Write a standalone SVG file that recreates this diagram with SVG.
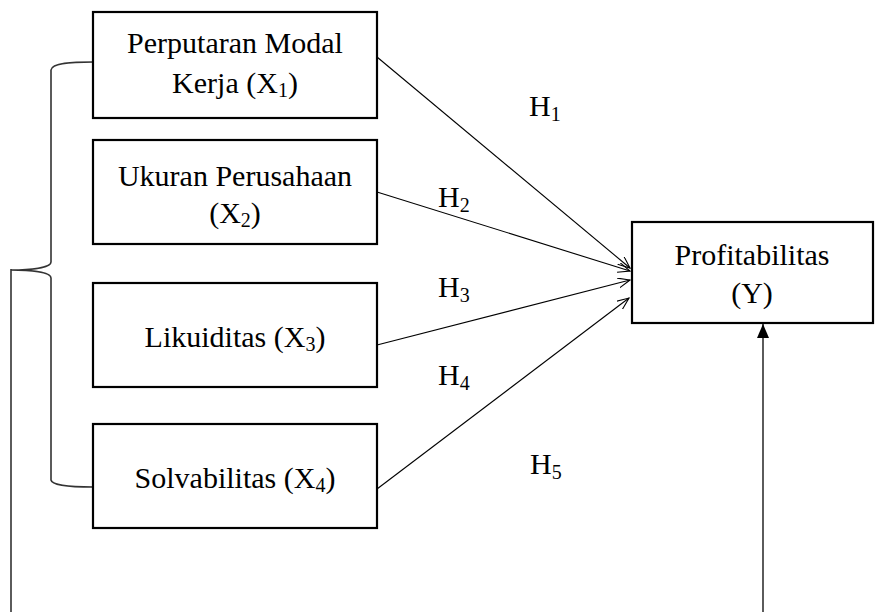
<svg xmlns="http://www.w3.org/2000/svg" width="875" height="612" viewBox="0 0 875 612">
<style>
.box{fill:#fff;stroke:#000;stroke-width:2.2}
.t{font-family:"Liberation Serif","Times New Roman",serif;font-size:30px;fill:#000;text-anchor:middle}
.h{font-family:"Liberation Serif","Times New Roman",serif;font-size:30px;fill:#000}
.sub{font-size:20px}
.ar{fill:none;stroke:#000;stroke-width:1.1}
.br{fill:none;stroke:#333;stroke-width:1.6}
</style>
<defs>
<marker id="open" markerUnits="userSpaceOnUse" markerWidth="14" markerHeight="12" refX="12" refY="5" orient="auto">
<path d="M0,0 L12,5 L0,10" fill="none" stroke="#000" stroke-width="1.1"/>
</marker>
<marker id="solid" markerUnits="userSpaceOnUse" markerWidth="14" markerHeight="14" refX="14" refY="6" orient="auto">
<path d="M0,0 L14,6 L0,12 Z" fill="#000"/>
</marker>
</defs>
<rect width="875" height="612" fill="#fff"/>
<g id="connectors">
<line class="ar" x1="377" y1="57" x2="630" y2="268" marker-end="url(#open)"/>
<line class="ar" x1="377" y1="192" x2="630" y2="271" marker-end="url(#open)"/>
<line class="ar" x1="377" y1="345" x2="630" y2="280" marker-end="url(#open)"/>
<line class="ar" x1="377" y1="489" x2="629" y2="298" marker-end="url(#open)"/>
<path class="br" d="M93,62 C72,62 52,63 51,70 L51,262 C51,268 30,270 11,270 C30,270 51,272 51,278 L51,480 C52,486 72,487 93,487"/>
<line class="br" x1="11" y1="269" x2="11" y2="612"/>
<line class="br" x1="763" y1="612" x2="763" y2="324" marker-end="url(#solid)"/>
<text class="h" x="529" y="116">H<tspan class="sub" dy="5">1</tspan></text>
<text class="h" x="438" y="207">H<tspan class="sub" dy="5">2</tspan></text>
<text class="h" x="438" y="297">H<tspan class="sub" dy="5">3</tspan></text>
<text class="h" x="438" y="385">H<tspan class="sub" dy="5">4</tspan></text>
<text class="h" x="530" y="474">H<tspan class="sub" dy="5">5</tspan></text>
</g>
<g id="x1">
<rect class="box" x="93" y="12" width="284" height="106"/>
<text class="t" x="235" y="53">Perputaran Modal</text>
<text class="t" x="235" y="93">Kerja (X<tspan class="sub" dy="4">1</tspan><tspan dy="-4">)</tspan></text>
</g>
<g id="x2">
<rect class="box" x="93" y="140" width="284" height="104"/>
<text class="t" x="235" y="186">Ukuran Perusahaan</text>
<text class="t" x="235" y="223">(X<tspan class="sub" dy="4">2</tspan><tspan dy="-4">)</tspan></text>
</g>
<g id="x3">
<rect class="box" x="93" y="283" width="284" height="104"/>
<text class="t" x="235" y="347">Likuiditas (X<tspan class="sub" dy="4">3</tspan><tspan dy="-4">)</tspan></text>
</g>
<g id="x4">
<rect class="box" x="93" y="424" width="284" height="104"/>
<text class="t" x="235" y="488">Solvabilitas (X<tspan class="sub" dy="4">4</tspan><tspan dy="-4">)</tspan></text>
</g>
<g id="y">
<rect class="box" x="632" y="222" width="241" height="101"/>
<text class="t" x="752" y="265">Profitabilitas</text>
<text class="t" x="752" y="303">(Y)</text>
</g>
</svg>
